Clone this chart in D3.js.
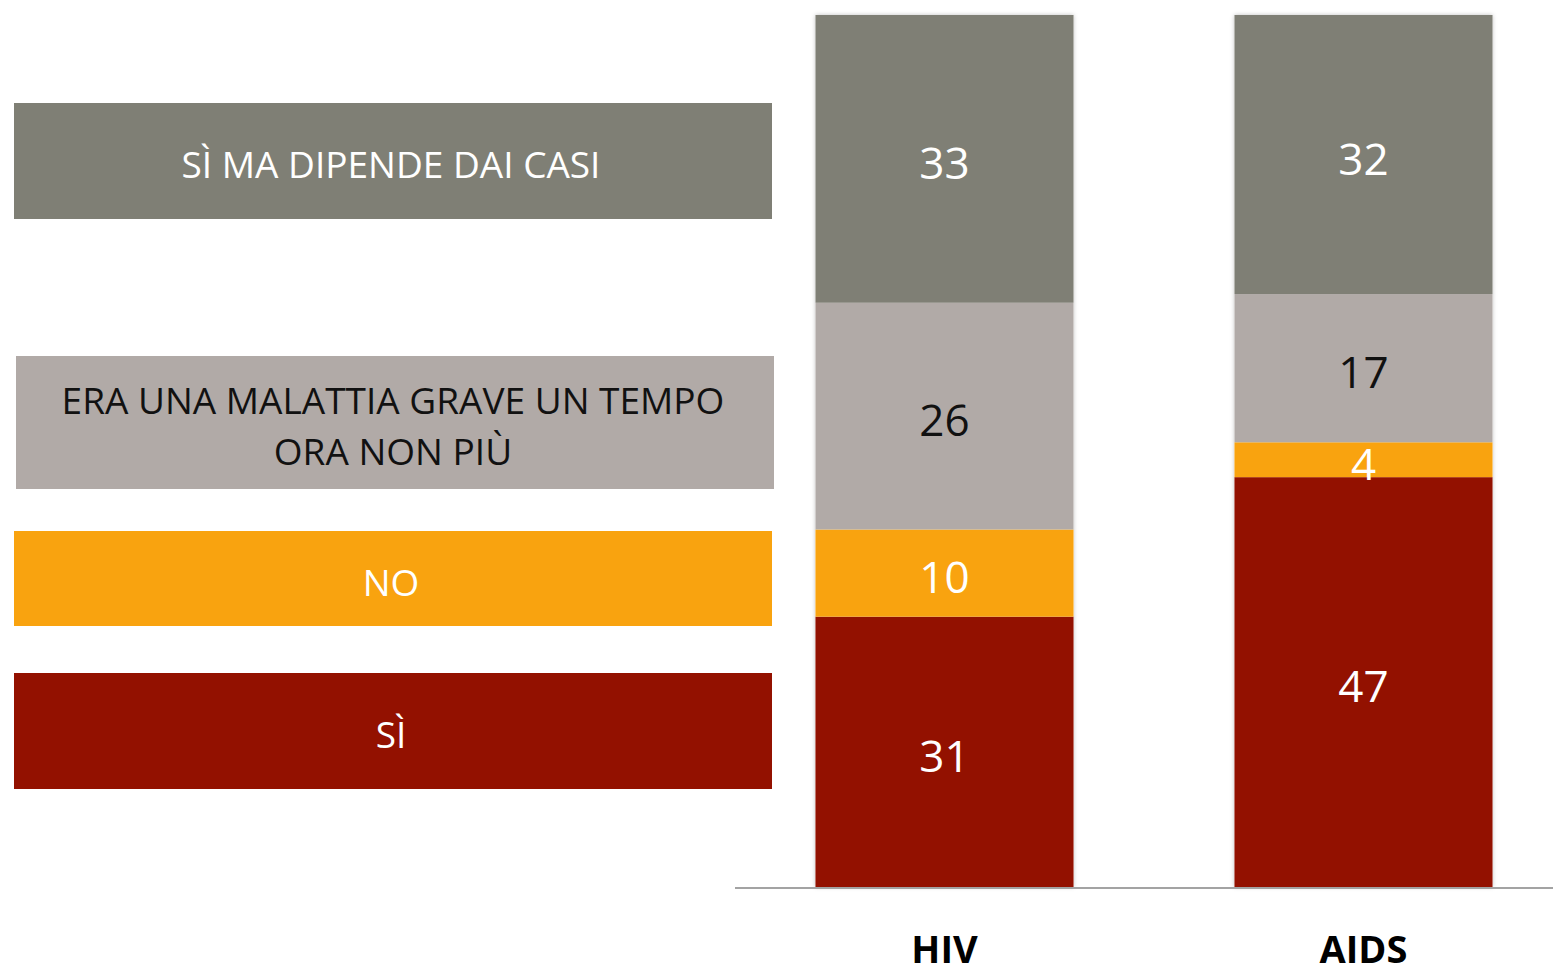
<!DOCTYPE html>
<html>
<head>
<meta charset="utf-8">
<script src="https://cdn.jsdelivr.net/npm/d3@7"></script>
<style>
  body { margin: 0; background: #fff; }
  svg { display: block; }
  text { font-family: "Open Sans", sans-serif; }
</style>
</head>
<body>
<div id="graph"></div>
<script>
var w = 1553
var h = 971

// data
var categories = ["HIV", "AIDS"]
var seriesNames = ["SÌ", "NO", "ERA UNA MALATTIA GRAVE UN TEMPO ORA NON PIÙ", "SÌ MA DIPENDE DAI CASI"]
var siValues = [31, 47]
var noValues = [10, 4]
var eraValues = [26, 17]
var dipendeValues = [33, 32]

var colors = ["#931100", "#f9a30f", "#b1aaa7", "#7f7f75"]
var labelColors = ["#fff", "#fff", "#111", "#fff"]

// legend boxes (layout only), in same order as series
var legendLines = [["SÌ"], ["NO"], ["ERA UNA MALATTIA GRAVE UN TEMPO", "ORA NON PIÙ"], ["SÌ MA DIPENDE DAI CASI"]]
var legendBoxes = [
  { x: 14, y: 673, w: 758, h: 116 },
  { x: 14, y: 531, w: 758, h: 95 },
  { x: 16, y: 356, w: 758, h: 133 },
  { x: 14, y: 103, w: 758, h: 116 }
]

var rows = categories.map(function (c, i) {
  return { cat: c, s0: siValues[i], s1: noValues[i], s2: eraValues[i], s3: dipendeValues[i] }
})
var stack = d3.stack().keys(["s0", "s1", "s2", "s3"])(rows)

var svg = d3.select("#graph").append("svg")
  .attr("width", w)
  .attr("height", h)

var defs = svg.append("defs")
var f = defs.append("filter").attr("id", "shadow")
  .attr("x", "-5%").attr("y", "-5%").attr("width", "110%").attr("height", "110%")
f.append("feDropShadow").attr("dx", 0).attr("dy", 0).attr("stdDeviation", 2)
  .attr("flood-color", "#000").attr("flood-opacity", 0.25)

var x = d3.scaleBand()
  .domain(categories)
  .range([735, 1573])
  .paddingInner(0.384)
  .paddingOuter(0.192)

var y = d3.scaleLinear()
  .domain([0, 100])
  .range([887, 15])

// bars (white backing with soft shadow)
var barG = svg.append("g")
categories.forEach(function (c) {
  barG.append("rect")
    .attr("x", x(c))
    .attr("y", y(100))
    .attr("width", x.bandwidth())
    .attr("height", y(0) - y(100))
    .attr("fill", "#fff")
    .attr("filter", "url(#shadow)")
})

stack.forEach(function (layer, li) {
  var g = svg.append("g")
  g.selectAll("rect")
    .data(layer)
    .join("rect")
    .attr("x", function (d) { return x(d.data.cat) })
    .attr("y", function (d) { return y(d[1]) })
    .attr("width", x.bandwidth())
    .attr("height", function (d) { return y(d[0]) - y(d[1]) })
    .attr("fill", colors[li])

  g.selectAll("text")
    .data(layer)
    .join("text")
    .attr("x", function (d) { return x(d.data.cat) + x.bandwidth() / 2 })
    .attr("y", function (d) { return (y(d[0]) + y(d[1])) / 2 + 20 })
    .attr("text-anchor", "middle")
    .attr("font-size", 44)
    .attr("fill", labelColors[li])
    .text(function (d) { return d[1] - d[0] })
})

// baseline
svg.append("line")
  .attr("x1", 735).attr("x2", w)
  .attr("y1", y(0) + 1).attr("y2", y(0) + 1)
  .attr("stroke", "#a3a3a3")
  .attr("stroke-width", 2)

// category labels
svg.append("g").selectAll("text")
  .data(categories)
  .join("text")
  .attr("x", function (d) { return x(d) + x.bandwidth() / 2 })
  .attr("y", 963)
  .attr("text-anchor", "middle")
  .attr("font-size", 38)
  .attr("font-weight", "bold")
  .attr("fill", "#000")
  .text(function (d) { return d })

// legend boxes
var lg = svg.append("g")
legendBoxes.forEach(function (b, i) {
  lg.append("rect")
    .attr("x", b.x).attr("y", b.y)
    .attr("width", b.w).attr("height", b.h)
    .attr("fill", colors[i])
  var lines = legendLines[i]
  var lh = 51
  var cy = b.y + b.h / 2
  lines.forEach(function (t, j) {
    lg.append("text")
      .attr("x", b.x + b.w / 2 - 2)
      .attr("y", cy + (j - (lines.length - 1) / 2) * lh + 17)
      .attr("text-anchor", "middle")
      .attr("font-size", 37)
      .attr("fill", labelColors[i])
      .text(t)
  })
})
</script>
</body>
</html>
